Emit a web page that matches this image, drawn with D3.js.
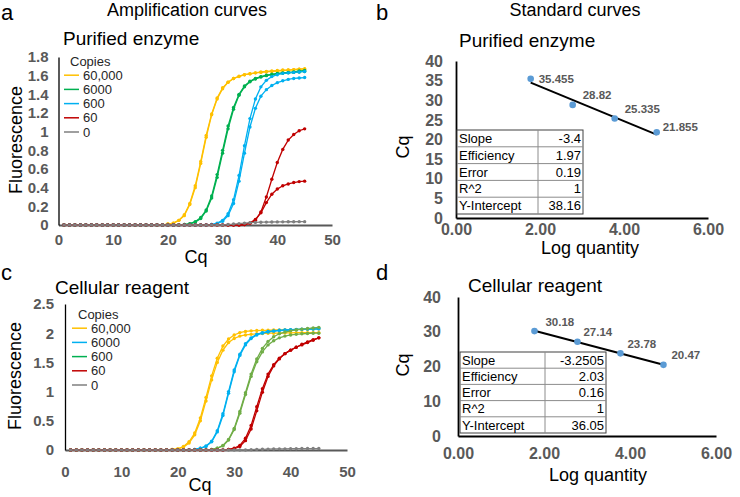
<!DOCTYPE html>
<html><head><meta charset="utf-8">
<script src="https://cdn.jsdelivr.net/npm/d3@7"></script>
<style>body{margin:0;background:#fff} svg{display:block} text{font-family:"Liberation Sans",Arial,Helvetica,sans-serif}</style>
</head><body><svg id="chart" width="740" height="497"></svg>
<script>
// ---------- DATA ----------
const cycles = [1,2,3,4,5,6,7,8,9,10,11,12,13,14,15,16,17,18,19,20,21,22,23,24,25,26,27,28,29,30,31,32,33,34,35,36,37,38,39,40,41,42,43,44,45];
const copiesA = ["60,000","6000","600","60","0"];
const copiesC = ["60,000","6000","600","60","0"];

// Panel a (purified enzyme) – fluorescence per cycle, two replicates each
const a60000r1 = [0,0,0,0,0,0,0,0,0,0,0,0,0,0,0,0,0,0,0,0.01,0.02,0.05,0.11,0.23,0.42,0.68,0.96,1.19,1.36,1.47,1.53,1.57,1.59,1.61,1.62,1.63,1.635,1.64,1.645,1.65,1.655,1.66,1.665,1.67,1.675];
const a60000r2 = [0,0,0,0,0,0,0,0,0,0,0,0,0,0,0,0,0,0,0,0.01,0.02,0.05,0.10,0.22,0.40,0.66,0.94,1.18,1.35,1.46,1.53,1.57,1.595,1.61,1.62,1.63,1.64,1.645,1.65,1.655,1.66,1.66,1.665,1.67,1.67];
const a6000r1 = [0,0,0,0,0,0,0,0,0,0,0,0,0,0,0,0,0,0,0,0,0,0,0.005,0.015,0.035,0.08,0.16,0.31,0.54,0.80,1.06,1.26,1.40,1.49,1.54,1.57,1.59,1.605,1.615,1.625,1.63,1.635,1.64,1.65,1.655];
const a6000r2 = [0,0,0,0,0,0,0,0,0,0,0,0,0,0,0,0,0,0,0,0,0,0,0.005,0.012,0.03,0.07,0.15,0.29,0.51,0.77,1.03,1.24,1.39,1.48,1.535,1.565,1.585,1.60,1.61,1.62,1.625,1.63,1.635,1.64,1.645];
const a600r1 = [0,0,0,0,0,0,0,0,0,0,0,0,0,0,0,0,0,0,0,0,0,0,0,0,0,0,0,0.005,0.02,0.05,0.12,0.27,0.53,0.85,1.14,1.35,1.48,1.55,1.59,1.61,1.625,1.63,1.635,1.64,1.645];
const a600r2 = [0,0,0,0,0,0,0,0,0,0,0,0,0,0,0,0,0,0,0,0,0,0,0,0,0,0,0,0.005,0.015,0.04,0.10,0.23,0.47,0.77,1.05,1.25,1.38,1.45,1.495,1.525,1.545,1.56,1.57,1.575,1.58];
const a60r1 = [0,0,0,0,0,0,0,0,0,0,0,0,0,0,0,0,0,0,0,0,0,0,0,0,0,0,0,0,0,0,0,0,0,0.005,0.02,0.05,0.14,0.30,0.49,0.67,0.81,0.91,0.97,1.01,1.03];
const a60r2 = [0,0,0,0,0,0,0,0,0,0,0,0,0,0,0,0,0,0,0,0,0,0,0,0,0,0,0,0,0,0,0,0,0,0.005,0.02,0.06,0.13,0.24,0.33,0.385,0.42,0.44,0.455,0.465,0.47];
const a0r1 = [0,0,0,0,0,0,0,0,0,0,0,0,0,0,0,0,0,0,0,0,0,0,0,0,0,0,0,0,0,0,0.005,0.01,0.015,0.02,0.025,0.028,0.03,0.031,0.032,0.033,0.034,0.035,0.035,0.036,0.036];

// Panel c (cellular reagent)
const c60000r1 = [0,0,0,0,0,0,0,0,0,0,0,0,0,0,0,0,0,0,0.01,0.02,0.06,0.14,0.29,0.55,0.90,1.27,1.57,1.78,1.90,1.97,2.01,2.03,2.04,2.045,2.05,2.05,2.055,2.055,2.06,2.06,2.06,2.065,2.065,2.07,2.07];
const c60000r2 = [0,0,0,0,0,0,0,0,0,0,0,0,0,0,0,0,0,0,0.01,0.02,0.05,0.12,0.26,0.50,0.84,1.20,1.50,1.71,1.84,1.91,1.95,1.97,1.98,1.99,1.995,2.0,2.0,2.0,2.005,2.005,2.01,2.01,2.01,2.01,2.01];
const c6000r1 = [0,0,0,0,0,0,0,0,0,0,0,0,0,0,0,0,0,0,0,0,0,0,0.01,0.03,0.07,0.15,0.33,0.62,1.00,1.37,1.64,1.82,1.92,1.98,2.01,2.03,2.04,2.05,2.055,2.06,2.065,2.07,2.07,2.075,2.08];
const c6000r2 = [0,0,0,0,0,0,0,0,0,0,0,0,0,0,0,0,0,0,0,0,0,0,0.01,0.03,0.06,0.14,0.31,0.59,0.97,1.34,1.62,1.80,1.91,1.97,2.0,2.02,2.035,2.045,2.05,2.055,2.06,2.065,2.07,2.07,2.075];
const c600r1 = [0,0,0,0,0,0,0,0,0,0,0,0,0,0,0,0,0,0,0,0,0,0,0,0,0,0.01,0.03,0.08,0.18,0.37,0.66,0.98,1.30,1.56,1.74,1.86,1.94,1.99,2.02,2.04,2.06,2.07,2.08,2.09,2.10];
const c600r2 = [0,0,0,0,0,0,0,0,0,0,0,0,0,0,0,0,0,0,0,0,0,0,0,0,0,0.01,0.03,0.07,0.17,0.35,0.63,0.95,1.26,1.51,1.68,1.80,1.87,1.92,1.95,1.97,1.98,1.99,1.995,2.0,2.0];
const c60r1 = [0,0,0,0,0,0,0,0,0,0,0,0,0,0,0,0,0,0,0,0,0,0,0,0,0,0,0,0,0.01,0.03,0.08,0.20,0.42,0.74,1.05,1.30,1.46,1.57,1.65,1.71,1.76,1.80,1.84,1.88,1.92];
const c60r2 = [0,0,0,0,0,0,0,0,0,0,0,0,0,0,0,0,0,0,0,0,0,0,0,0,0,0,0,0,0.01,0.02,0.06,0.16,0.36,0.67,0.99,1.26,1.44,1.56,1.65,1.71,1.76,1.81,1.85,1.89,1.92];
const c0r1 = [0,0,0,0,0,0,0,0,0,0,0,0,0,0,0,0,0,0,0,0,0,0,0,0,0,0,0,0,0,0,0,0,0.005,0.01,0.012,0.015,0.018,0.02,0.02,0.022,0.022,0.025,0.025,0.025,0.025];

const fluorTicksA = [0,0.2,0.4,0.6,0.8,1,1.2,1.4,1.6,1.8];
const fluorTicksC = [0,0.5,1,1.5,2,2.5];
const cycleTicks = [0,10,20,30,40,50];

// Standard curves
const logQty = [1.778, 2.778, 3.778, 4.778];
const cqB = [35.455, 28.82, 25.335, 21.855];
const cqD = [30.18, 27.14, 23.78, 20.47];
const cqTicksB = [0,5,10,15,20,25,30,35,40];
const cqTicksD = [0,10,20,30,40];
const logTicks = [0,2,4,6];
const statNames = ["Slope","Efficiency","Error","R^2","Y-Intercept"];
const statsB = ["-3.4","1.97","0.19","1","38.16"];
const statsD = ["-3.2505","2.03","0.16","1","36.05"];

// ---------- STYLE ----------
const COL = {yellow:"#FFC000", green:"#00B050", lgreen:"#70AD47", blue:"#00B0F0", red:"#C00000", gray:"#7F7F7F"};
const svg = d3.select("#chart");
const TICK = "#595959";

function styleAxis(g, fs, domainColor, domainWidth){
  g.selectAll(".tick line").remove();
  g.select(".domain").attr("stroke", domainColor).attr("stroke-width", domainWidth);
  g.selectAll(".tick text").attr("fill", TICK).style("font-size", fs+"px").style("font-weight","bold")
    .style("font-family",'"Liberation Sans",Arial,sans-serif');
}

function ampPanel(o){
  const x = d3.scaleLinear().domain([0,50]).range([o.x0,o.x1]);
  const y = d3.scaleLinear().domain([0,o.ymax]).range([o.y0,o.y1]);
  const g = svg.append("g");
  const gx = g.append("g").attr("transform",`translate(0,${o.y0})`)
    .call(d3.axisBottom(x).tickValues(cycleTicks).tickSize(0).tickPadding(o.xpad).tickSizeOuter(0));
  styleAxis(gx, 15, "#595959", 2);
  const gy = g.append("g").attr("transform",`translate(${o.x0},0)`)
    .call(d3.axisLeft(y).tickValues(o.yticks).tickSize(0).tickPadding(o.ypad).tickSizeOuter(0).tickFormat(d=>String(+d.toFixed(1))));
  styleAxis(gy, 15, "#000", 1.3);
  const line = d3.line().x((d,i)=>x(cycles[i])).y(d=>y(d));
  o.series.forEach(s=>{
    s.reps.forEach(r=>{
      g.append("path").attr("d", line(r)).attr("fill","none").attr("stroke", s.color).attr("stroke-width",1.3);
      g.append("g").selectAll("circle").data(r).join("circle")
        .attr("cx",(d,i)=>x(cycles[i])).attr("cy",d=>y(d)).attr("r",1.7).attr("fill",s.color);
    });
  });
  // legend
  const lg = g.append("g");
  lg.append("text").attr("x",o.lx+6).attr("y",o.ly).attr("dy","0.35em").text("Copies")
    .style("font-size","13px").attr("fill","#262626");
  o.legend.forEach((s,i)=>{
    const yy = o.ly + 14.2*(i+1);
    lg.append("line").attr("x1",o.lx).attr("x2",o.lx+15).attr("y1",yy).attr("y2",yy).attr("stroke",s.color).attr("stroke-width",1.5);
    lg.append("text").attr("x",o.lx+19).attr("y",yy).attr("dy","0.35em").text(s.label).style("font-size","13px").attr("fill","#262626");
  });
  // titles
  g.append("text").attr("x",o.sx).attr("y",o.sy).text(o.subtitle).style("font-size","19px");
  g.append("text").attr("transform",`translate(${o.fx},${o.fy}) rotate(-90)`).attr("text-anchor","middle").text("Fluorescence").style("font-size","18px");
  g.append("text").attr("x",o.cqx).attr("y",o.cqy).attr("text-anchor","middle").text("Cq").style("font-size","18px");
}

function stdPanel(o){
  const x = d3.scaleLinear().domain([0,6]).range([o.x0,o.x1]);
  const y = d3.scaleLinear().domain([0,40]).range([o.y0,o.y1]);
  const g = svg.append("g");
  const gx = g.append("g").attr("transform",`translate(0,${o.y0})`)
    .call(d3.axisBottom(x).tickValues(logTicks).tickSize(0).tickPadding(o.xpad).tickSizeOuter(0).tickFormat(d3.format(".2f")));
  styleAxis(gx, 16, "#000", 1.8);
  const gy = g.append("g").attr("transform",`translate(${o.x0},0)`)
    .call(d3.axisLeft(y).tickValues(o.yticks).tickSize(0).tickPadding(o.ypad).tickSizeOuter(0));
  styleAxis(gy, 16, "#000", 1.8);
  // table
  const tx0 = o.tx0, tx1 = o.tx1, tdiv = o.tdiv, ty0 = o.ty0, rh = o.rh;
  const tg = g.append("g");
  tg.append("rect").attr("x",tx0).attr("y",ty0).attr("width",tx1-tx0).attr("height",rh*statNames.length)
    .attr("fill","#fff").attr("stroke","#404040").attr("stroke-width",1);
  statNames.forEach((n,i)=>{
    if(i>0) tg.append("line").attr("x1",tx0).attr("x2",tx1).attr("y1",ty0+rh*i).attr("y2",ty0+rh*i).attr("stroke","#8c8c8c");
    tg.append("text").attr("x",tx0+2).attr("y",ty0+rh*(i+0.5)).attr("dy","0.36em").text(n).style("font-size","13px");
    tg.append("text").attr("x",tx1-2).attr("y",ty0+rh*(i+0.5)).attr("dy","0.36em").attr("text-anchor","end").text(o.stats[i]).style("font-size","13px");
  });
  tg.append("line").attr("x1",tdiv).attr("x2",tdiv).attr("y1",ty0).attr("y2",ty0+rh*statNames.length).attr("stroke","#8c8c8c");
  // regression line
  const mx = d3.mean(logQty), my = d3.mean(o.cq);
  const slope = d3.sum(logQty,(v,i)=>(v-mx)*(o.cq[i]-my))/d3.sum(logQty,v=>(v-mx)*(v-mx));
  const icpt = my - slope*mx;
  const xa = d3.min(logQty), xb = d3.max(logQty);
  g.append("line").attr("x1",x(xa)).attr("y1",y(icpt+slope*xa)).attr("x2",x(xb)).attr("y2",y(icpt+slope*xb))
    .attr("stroke","#000").attr("stroke-width",2);
  g.selectAll(null).data(o.cq).join("circle").attr("cx",(d,i)=>x(logQty[i])).attr("cy",d=>y(d)).attr("r",3.3).attr("fill","#5B9BD5");
  g.selectAll(null).data(o.cq).join("text").attr("x",(d,i)=>x(logQty[i])+o.lab[i][0]).attr("y",(d,i)=>y(d)+o.lab[i][1])
    .attr("dy","0.35em").text(d=>String(d)).style("font-size","11.5px").style("font-weight","bold").attr("fill",TICK);
  g.append("text").attr("x",o.sx).attr("y",o.sy).text(o.subtitle).style("font-size","19px");
  g.append("text").attr("transform",`translate(${o.cqx},${o.cqy}) rotate(-90)`).attr("text-anchor","middle").text("Cq").style("font-size","18px");
  g.append("text").attr("x",o.lqx).attr("y",o.lqy).attr("text-anchor","middle").text("Log quantity").style("font-size","18px");
}

ampPanel({x0:58.5,x1:332,y0:225,y1:57,ymax:1.8,yticks:fluorTicksA,xpad:9,ypad:10,
  series:[{color:COL.yellow,reps:[a60000r1,a60000r2]},{color:COL.green,reps:[a6000r1,a6000r2]},
          {color:COL.blue,reps:[a600r1,a600r2]},{color:COL.red,reps:[a60r1,a60r2]},{color:COL.gray,reps:[a0r1]}],
  legend:[{color:COL.yellow,label:copiesA[0]},{color:COL.green,label:copiesA[1]},{color:COL.blue,label:copiesA[2]},{color:COL.red,label:copiesA[3]},{color:COL.gray,label:copiesA[4]}],
  lx:64,ly:61,subtitle:"Purified enzyme",sx:63,sy:45,fx:22,fy:140,cqx:196,cqy:263});

ampPanel({x0:65,x1:347,y0:450,y1:304,ymax:2.5,yticks:fluorTicksC,xpad:16,ypad:11,
  series:[{color:COL.yellow,reps:[c60000r1,c60000r2]},{color:COL.blue,reps:[c6000r1,c6000r2]},
          {color:COL.lgreen,reps:[c600r1,c600r2]},{color:COL.red,reps:[c60r1,c60r2]},{color:COL.gray,reps:[c0r1]}],
  legend:[{color:COL.yellow,label:copiesC[0]},{color:COL.blue,label:copiesC[1]},{color:COL.green,label:copiesC[2]},{color:COL.red,label:copiesC[3]},{color:COL.gray,label:copiesC[4]}],
  lx:72,ly:314,subtitle:"Cellular reagent",sx:55,sy:294,fx:21,fy:376,cqx:200,cqy:491});

stdPanel({x0:456,x1:708,y0:218,y1:61,yticks:cqTicksB,xpad:6,ypad:13,cq:cqB,stats:statsB,
  tx0:457,tx1:583,tdiv:538,ty0:130,rh:16.8,
  lab:[[8,0],[10,-10],[10,-10],[6,-5]],
  subtitle:"Purified enzyme",sx:459,sy:47,cqx:409,cqy:147,lqx:590,lqy:254});

stdPanel({x0:458,x1:716,y0:436,y1:297,yticks:cqTicksD,xpad:12,ypad:17,cq:cqD,stats:statsD,
  tx0:460,tx1:606,tdiv:545,ty0:352,rh:16.2,
  lab:[[11,-9],[6,-10],[7,-9],[8,-10]],
  subtitle:"Cellular reagent",sx:468,sy:292,cqx:409,cqy:365,lqx:598,lqy:481});

// headers
svg.append("text").attr("x",187).attr("y",16).attr("text-anchor","middle").text("Amplification curves").style("font-size","18px");
svg.append("text").attr("x",575).attr("y",16).attr("text-anchor","middle").text("Standard curves").style("font-size","18px");
svg.append("text").attr("x",1).attr("y",20).text("a").style("font-size","22px");
svg.append("text").attr("x",376).attr("y",20).text("b").style("font-size","22px");
svg.append("text").attr("x",1).attr("y",280).text("c").style("font-size","22px");
svg.append("text").attr("x",376).attr("y",280).text("d").style("font-size","22px");
</script></body></html>
